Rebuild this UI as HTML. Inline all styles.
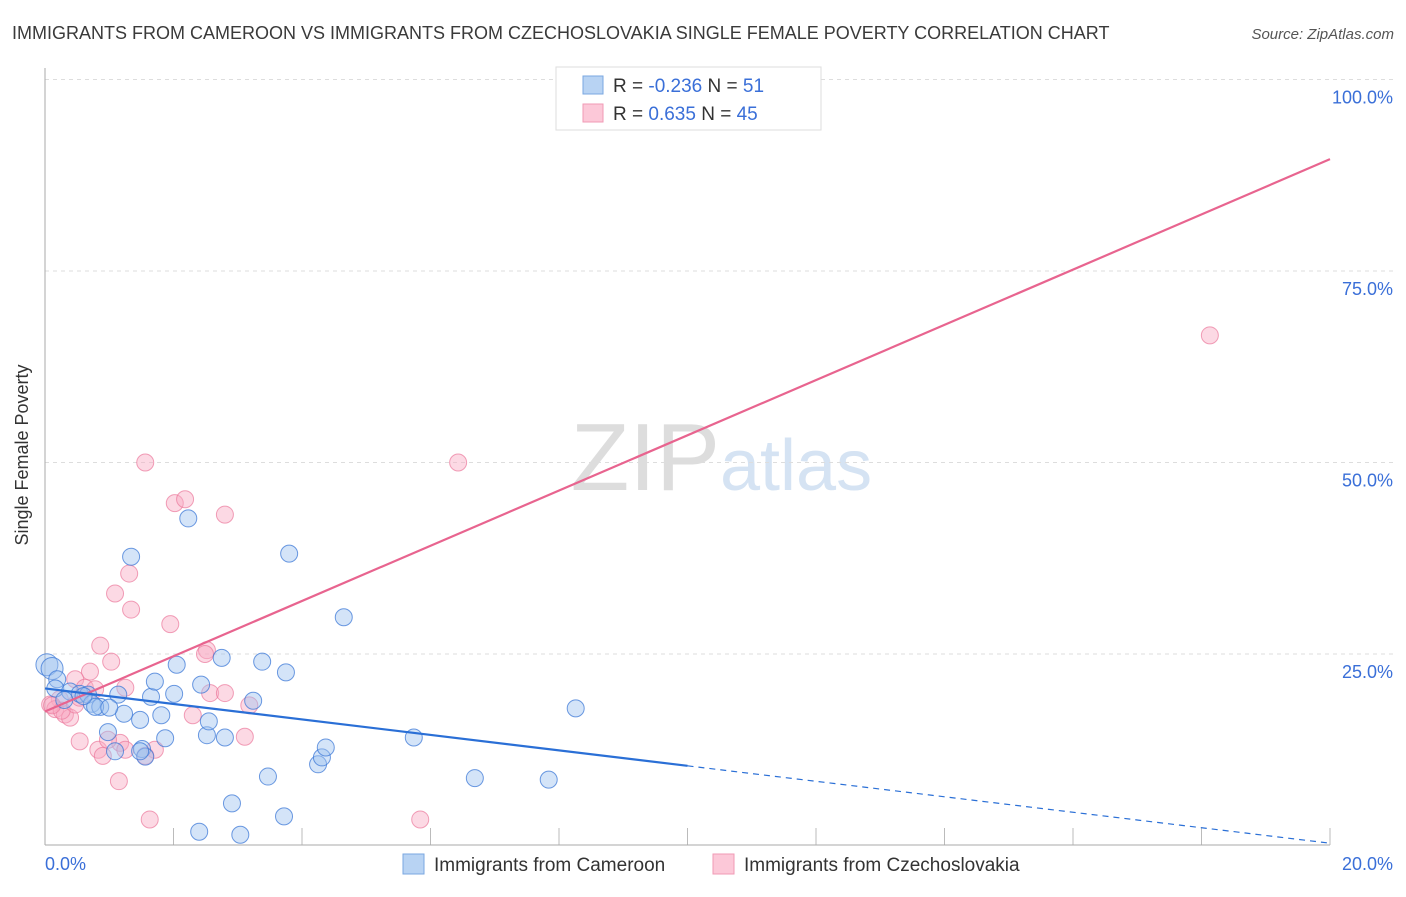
<!DOCTYPE html>
<html><head><meta charset="utf-8"><style>
body{margin:0;background:#fff;font-family:"Liberation Sans",sans-serif;}
svg text{font-family:"Liberation Sans",sans-serif;}
</style></head><body>
<svg width="1406" height="892">
<text x="12" y="39" font-size="18" fill="#3a3a3a">IMMIGRANTS FROM CAMEROON VS IMMIGRANTS FROM CZECHOSLOVAKIA SINGLE FEMALE POVERTY CORRELATION CHART</text>
<text x="1394" y="39" font-size="15" fill="#555" text-anchor="end" font-style="italic">Source: ZipAtlas.com</text>
<text x="720" y="490" font-size="96" fill="#ddd" text-anchor="end" font-family="Liberation Serif">ZIP</text>
<text x="720" y="490" font-size="72" fill="#d5e3f3">atlas</text>
<g id="grid"></g>
<line x1="45" y1="68" x2="45" y2="845" stroke="#aaa"/>
<line x1="45" y1="845" x2="1330" y2="845" stroke="#aaa"/>
<text x="28" y="455" font-size="18" fill="#333" text-anchor="middle" transform="rotate(-90 28 455)">Single Female Poverty</text>
<g id="pts"></g>
<g id="lines"></g>
<g>
<rect x="556" y="67" width="265" height="63" fill="#fff" stroke="#ddd"/>
<rect x="583" y="76" width="20" height="18" fill="#b8d3f3" stroke="#7aa7e0"/>
<rect x="583" y="104" width="20" height="18" fill="#fcc8d8" stroke="#f09ab5"/>
<text x="613" y="92" font-size="19" fill="#333">R = <tspan fill="#3a6fd8">-0.236</tspan>   N =  <tspan fill="#3a6fd8">51</tspan></text>
<text x="613" y="120" font-size="19" fill="#333">R =  <tspan fill="#3a6fd8"> 0.635</tspan>   N = <tspan fill="#3a6fd8">45</tspan></text>
</g>
<g>
<rect x="403" y="854" width="21" height="20" fill="#b8d3f3" stroke="#7aa7e0"/>
<text x="434" y="871" font-size="19" fill="#333">Immigrants from Cameroon</text>
<rect x="713" y="854" width="21" height="20" fill="#fcc8d8" stroke="#f09ab5"/>
<text x="744" y="871" font-size="19" fill="#333">Immigrants from Czechoslovakia</text>
</g>
</svg>
<script>
const yTicks=[25,50,75,100];
const yTickLabels=["25.0%","50.0%","75.0%","100.0%"];
const xTickLabels=["0.0%","20.0%"];
const blueX=[0.03,0.11,0.19,0.16,0.39,0.54,0.67,0.73,0.86,0.78,1.14,1.23,0.98,1.09,1.48,1.51,1.56,1.65,1.71,1.81,1.87,2.01,2.05,2.23,1.34,2.43,2.52,2.55,2.75,2.80,2.91,2.40,3.04,3.24,3.38,3.47,3.72,3.75,3.80,4.25,4.31,4.37,4.65,5.74,6.69,7.84,8.26,1.48,0.30,0.60,1.00];
const blueY=[23.6,23.1,21.7,20.5,20.1,19.8,19.7,18.5,18.1,18.1,19.7,17.2,14.8,12.3,16.4,12.6,11.6,19.4,21.4,17.0,14.0,19.8,23.6,42.7,37.7,21.0,14.4,16.2,24.5,14.1,5.5,1.8,1.4,18.9,24.0,9.0,3.8,22.6,38.1,10.6,11.5,12.8,29.8,14.1,8.8,8.6,17.9,12.3,19.0,19.5,18.0];
const pinkX=[1.56,2.02,2.18,2.80,1.31,1.09,1.34,1.95,0.86,1.03,0.70,0.47,0.62,0.78,0.23,0.08,0.16,0.31,0.39,0.26,0.47,0.54,0.83,0.90,1.17,1.25,1.71,1.56,1.15,1.63,1.25,2.52,2.49,2.57,2.80,2.30,3.18,3.11,5.84,6.43,18.13,9.49,0.98,0.54,0.11];
const pinkY=[50.0,44.7,45.2,43.2,35.5,32.9,30.8,28.9,26.1,24.0,22.7,21.7,20.6,20.4,19.1,18.4,17.8,17.1,16.7,17.6,18.4,13.6,12.5,11.7,13.4,12.5,12.5,11.7,8.4,3.4,20.6,25.5,25.0,19.9,19.9,17.0,18.3,14.2,3.4,50.0,66.6,100.0,13.8,19.3,18.3];
const pinkLine=[[0,17.5],[20,89.6]];
const blueLine=[[0,20.5],[10,10.4],[20,0.3]];
const ns="http://www.w3.org/2000/svg";
const X0=45,X1=1330,Y0=845.5,Y100=79.5;
function sx(v){return X0+(X1-X0)*v/20;}
function sy(v){return Y0-(Y0-Y100)*v/100;}
function mk(t,a){const e=document.createElementNS(ns,t);for(const k in a)e.setAttribute(k,a[k]);return e;}
const svg=document.querySelector('svg');
const grid=document.getElementById('grid');
yTicks.forEach((t,i)=>{
 const l=mk('line',{x1:45,x2:1394,y1:sy(t),y2:sy(t),stroke:'#ddd','stroke-dasharray':'4,4'});
 
 
 grid.appendChild(l);
 const tx=mk('text',{x:1393,y:sy(t)+24,'font-size':18,fill:'#3a6fd8','text-anchor':'end'});
 tx.textContent=yTickLabels[i];
 
 
 svg.appendChild(tx);
});
for(let i=1;i<=10;i++){
 const l=mk('line',{x1:sx(i*2),x2:sx(i*2),y1:828,y2:845,stroke:'#bbb'});
 
 
 grid.appendChild(l);
}
xTickLabels.forEach((s,i)=>{
 const tx=mk('text',{x:i?1393:45,y:870,'font-size':18,fill:'#3a6fd8','text-anchor':i?'end':'start'});
 tx.textContent=s;
 
 
 svg.appendChild(tx);
});
const pts=document.getElementById('pts');
pinkX.forEach((x,i)=>{
 const c=mk('circle',{cx:sx(x),cy:sy(pinkY[i]),r:8.5,fill:'rgba(248,170,195,0.45)',stroke:'rgba(235,120,155,0.7)'});
 
 
 pts.appendChild(c);
});
blueX.forEach((x,i)=>{
 const c=mk('circle',{cx:sx(x),cy:sy(blueY[i]),r:i<2?11:8.5,fill:'rgba(160,195,240,0.45)',stroke:'rgba(60,120,215,0.75)'});
 
 
 pts.appendChild(c);
});
const lg=document.getElementById('lines');
const pl=mk('line',{x1:sx(pinkLine[0][0]),y1:sy(pinkLine[0][1]),x2:sx(pinkLine[1][0]),y2:sy(pinkLine[1][1]),stroke:'#e8648f','stroke-width':2.2});


lg.appendChild(pl);
const bl=mk('line',{x1:sx(blueLine[0][0]),y1:sy(blueLine[0][1]),x2:sx(blueLine[1][0]),y2:sy(blueLine[1][1]),stroke:'#2a6fd6','stroke-width':2.2});


lg.appendChild(bl);
const bd=mk('line',{x1:sx(blueLine[1][0]),y1:sy(blueLine[1][1]),x2:sx(blueLine[2][0]),y2:sy(blueLine[2][1]),stroke:'#2a6fd6','stroke-width':1.2,'stroke-dasharray':'6,5'});


lg.appendChild(bd);
</script>
</body></html>
